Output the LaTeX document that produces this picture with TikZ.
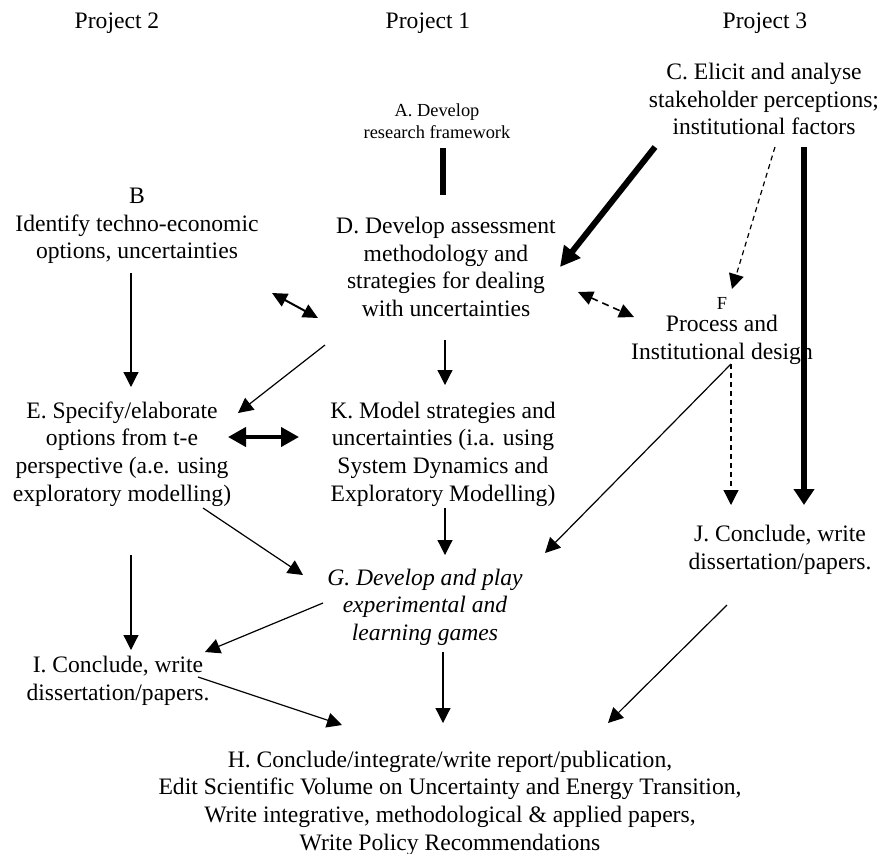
\documentclass[tikz,border=0pt]{standalone}
\usepackage{fontspec}
\setmainfont{Liberation Serif}
\usetikzlibrary{arrows.meta}

\begin{document}
\begin{tikzpicture}[x=0.5pt, y=-0.5pt,
    every node/.style={align=center, inner sep=1pt, font=\fontsize{11.8}{13.8}\selectfont},
    smalltxt/.style={font=\fontsize{9.2}{11}\selectfont},
    arr/.style={line width=0.6pt, -{Triangle[length=7.5pt,width=7.5pt]}},
    dasharr/.style={arr, dash pattern=on 2.5pt off 2pt},
    dblarr/.style={line width=1pt, {Triangle[length=7.5pt,width=7pt]}-{Triangle[length=7.5pt,width=7pt]}},
    heavy/.style={line width=3pt, -{Triangle[length=10pt,width=10pt]}}]
            \useasboundingbox (0,0) rectangle (885,853);

            \node (p2) at (117,23) {Project 2};
            \node (p1) at (428,23) {Project 1};
            \node (p3) at (765,23) {Project 3};

            \node[smalltxt] (a) at (437,121) {A. Develop\\research framework};
            \node (c) at (764,99) {C. Elicit and analyse\\stakeholder perceptions;\\institutional factors};
            \node (b) at (137,226) {B\\Identify techno-economic\\options, uncertainties};
            \node (d) at (446,267) {D. Develop assessment\\methodology and\\strategies for dealing\\with uncertainties};
            \node (f) at (722,331) {{\fontsize{9.2}{11}\selectfont F}\\[-2.5pt]Process and\\Institutional design};
            \node (e) at (122,454) {E. Specify/elaborate\\options from t-e\\perspective (a.e. using\\exploratory modelling)};
            \node (k) at (443,454) {K. Model strategies and\\uncertainties (i.a. using\\System Dynamics and\\Exploratory Modelling)};
            \node (j) at (780,550) {J. Conclude, write\\dissertation/papers.};
            \node[font=\fontsize{11.8}{13.8}\selectfont\itshape] (g) at (425,607) {G. Develop and play\\experimental and\\learning games};
            \node (i) at (118,681) {I. Conclude, write\\dissertation/papers.};
            \node (h) at (450,803) {H. Conclude/integrate/write report/publication,\\Edit Scientific Volume on Uncertainty and Energy Transition,\\Write integrative, methodological \& applied papers,\\Write Policy Recommendations};

            % Project 1 column
            \draw[line width=3pt] ([shift={(6,27)}]a.center) -- ([shift={(-3,-72)}]d.center);
            \draw[arr] ([shift={(-1,73)}]d.center) -- ([shift={(2,-69)}]k.center);
            \draw[arr] ([shift={(2,54)}]k.center) -- ([shift={(20,-52)}]g.center);
            \draw[arr] ([shift={(18,45)}]g.center) -- ([shift={(-7,-80)}]h.center);

            % Project 3 column
            \draw[heavy] ([shift={(-109,48)}]c.center) -- ([shift={(114,0)}]d.center);
            \draw[dasharr] ([shift={(11,48)}]c.center) -- ([shift={(10,-42)}]f.center);
            \draw[line width=3pt, -{Triangle[length=8pt,width=10pt]}] ([shift={(40,48)}]c.center) -- ([shift={(24,-45)}]j.center);
            \draw[dblarr, line width=0.8pt, dash pattern=on 3.5pt off 2.5pt] ([shift={(132,25)}]d.center) -- ([shift={(-88,-14)}]f.center);
            \draw[arr] ([shift={(9,33)}]f.center) -- ([shift={(120,-54)}]g.center);
            \draw[dasharr] ([shift={(9,33)}]f.center) -- ([shift={(-49,-45)}]j.center);
            \draw[arr] ([shift={(-53,55)}]j.center) -- ([shift={(158,-80)}]h.center);

            % Project 2 column
            \draw[arr] ([shift={(-6,47)}]b.center) -- ([shift={(9,-67)}]e.center);
            \draw[dblarr] ([shift={(135,67)}]b.center) -- ([shift={(-128,51)}]d.center);
            \draw[arr] ([shift={(-121,78)}]d.center) -- ([shift={(116,-41)}]e.center);
            \draw[line width=2pt, {Triangle[length=9pt,width=9.5pt]}-{Triangle[length=9pt,width=9.5pt]}] ([shift={(106,-17)}]e.center) -- ([shift={(-144,-17)}]k.center);
            \draw[arr] ([shift={(81,54)}]e.center) -- ([shift={(-122,-32)}]g.center);
            \draw[arr] ([shift={(9,101)}]e.center) -- ([shift={(13,-31)}]i.center);
            \draw[arr] ([shift={(-102,-4)}]g.center) -- ([shift={(87,-29)}]i.center);
            \draw[arr] ([shift={(80,-4)}]i.center) -- ([shift={(-108,-78)}]h.center);
        \end{tikzpicture}
\end{document}
